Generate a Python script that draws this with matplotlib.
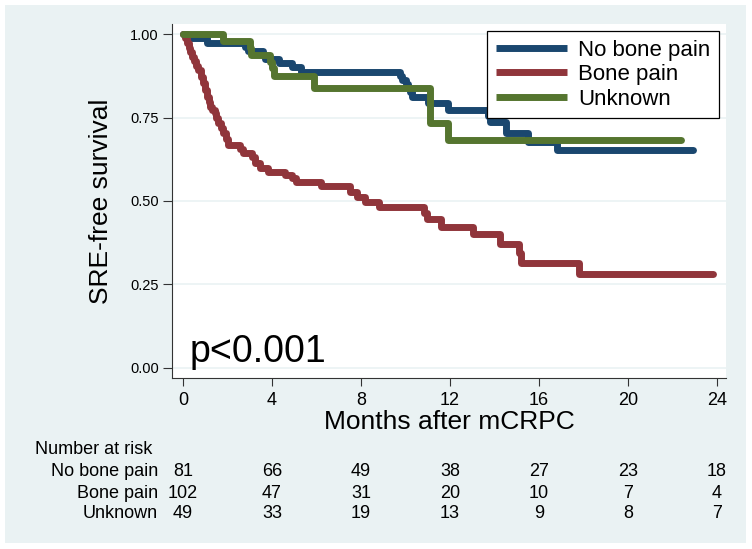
#!/usr/bin/env python3
# SRE-free survival by bone pain status (Kaplan-Meier steps).
import matplotlib
matplotlib.use("Agg")
import matplotlib.pyplot as plt
import matplotlib.transforms as mtransforms
from matplotlib.patches import Rectangle

plt.rcParams["font.family"] = ["Liberation Sans", "DejaVu Sans"]

# ---- data ----
groups = ["No bone pain", "Bone pain", "Unknown"]

t_nopain = [0, 0.2, 1.1, 2.8, 2.9, 3.6, 3.7, 4.3, 4.9, 5.3, 9.75, 9.85, 10.0, 10.1,
            10.2, 10.3, 11.0, 11.9, 13.7, 13.8, 14.5, 15.5, 16.8]
s_nopain = [1.0, 0.988, 0.975, 0.963, 0.95, 0.938, 0.926, 0.913, 0.901, 0.888, 0.876,
            0.863, 0.851, 0.838, 0.826, 0.813, 0.794, 0.773, 0.755, 0.738, 0.704,
            0.678, 0.653]
end_nopain = 22.9

t_pain = [0, 0.1, 0.17, 0.25, 0.32, 0.39, 0.5, 0.6, 0.69, 0.8, 0.91, 1.0, 1.07, 1.15,
          1.21, 1.3, 1.44, 1.5, 1.59, 1.7, 1.81, 1.95, 2.04, 2.56, 2.71, 3.09, 3.24,
          3.46, 3.83, 4.58, 4.9, 5.1, 6.2, 7.5, 7.8, 8.2, 8.8, 10.85, 10.95, 11.6,
          13.05, 14.25, 15.1, 15.2, 17.8]
s_pain = [1.0, 0.99, 0.973, 0.96, 0.946, 0.933, 0.92, 0.906, 0.893, 0.873, 0.853,
          0.833, 0.813, 0.798, 0.783, 0.773, 0.763, 0.748, 0.733, 0.718, 0.703, 0.685,
          0.668, 0.655, 0.643, 0.633, 0.613, 0.598, 0.588, 0.578, 0.568, 0.558, 0.545,
          0.528, 0.513, 0.498, 0.483, 0.463, 0.445, 0.423, 0.40, 0.37, 0.343, 0.315,
          0.28]
end_pain = 23.8

t_unk = [0, 1.8, 3.0, 3.05, 3.9, 4.0, 4.1, 5.9, 11.1, 11.9]
s_unk = [1.0, 0.98, 0.959, 0.939, 0.918, 0.898, 0.875, 0.839, 0.734, 0.683]
end_unk = 22.4

risk_times = [0, 4, 8, 12, 16, 20, 24]
risk_nopain = [81, 66, 49, 38, 27, 23, 18]
risk_pain = [102, 47, 31, 20, 10, 7, 4]
risk_unk = [49, 33, 19, 13, 9, 8, 7]

colors = ["#1A476F", "#90353B", "#55752F"]
BG = "#EAF2F3"
LW = 5.0

W, H = 752, 549
fig = plt.figure(figsize=(W / 100, H / 100), dpi=100, facecolor="white")
fig.patches.append(Rectangle((5 / W, 1 - 543 / H), (746 - 5) / W, (543 - 5) / H,
                             transform=fig.transFigure, facecolor=BG,
                             edgecolor="none", zorder=-10))

L, R, T, B = 172, 726, 24, 378
ax = fig.add_axes([L / W, 1 - B / H, (R - L) / W, (B - T) / H])
ax.set_facecolor("white")

curves = [(t_nopain, s_nopain, end_nopain), (t_pain, s_pain, end_pain),
          (t_unk, s_unk, end_unk)]
for (t, s, end), c, g in zip(curves, colors, groups):
    ax.step(t + [end], s + [s[-1]], where="post", color=c, lw=LW, label=g,
            solid_capstyle="round", solid_joinstyle="round")

ax.set_xlim(-0.494, 24.4)
ax.set_ylim(-0.031, 1.031)
ax.set_xticks(risk_times)
ax.set_yticks([0, 0.25, 0.5, 0.75, 1.0])
ax.set_yticklabels(["0.00", "0.25", "0.50", "0.75", "1.00"], fontsize=10.5)
ax.tick_params(axis="x", labelsize=13, length=6, width=0.8, color="#333333", pad=4)
ax.tick_params(axis="y", length=6.5, width=0.8, color="#333333", pad=3)
ax.yaxis.grid(True, color=BG, lw=1.2)
ax.set_axisbelow(True)
for sp in ("top", "right"):
    ax.spines[sp].set_visible(False)
for sp in ("left", "bottom"):
    ax.spines[sp].set_color("#333333")
    ax.spines[sp].set_linewidth(0.8)

ax.set_xlabel("Months after mCRPC", fontsize=19, labelpad=1)
ax.set_ylabel("SRE-free survival", fontsize=19, labelpad=12)

ax.text(0.032, 0.045, "p<0.001", transform=ax.transAxes, fontsize=27, ha="left",
        va="baseline")

leg = ax.legend(loc="upper right", bbox_to_anchor=((719 - L) / (R - L), (B - 31) / (B - T)),
                borderaxespad=0, fontsize=16, handlelength=3.2, handletextpad=0.5,
                labelspacing=0.15, borderpad=0.4, fancybox=False, framealpha=1,
                edgecolor="black")
leg.get_frame().set_linewidth(0.9)
for ln in leg.get_lines():
    ln.set_linewidth(LW)
    ln.set_solid_capstyle("butt")

# number at risk table
tr = mtransforms.blended_transform_factory(ax.transData, fig.transFigure)
fig.text(35 / W, 1 - 450 / H, "Number at risk", fontsize=13, ha="left", va="center")
rows_y = [472, 493, 514]
for g, counts, y in zip(groups, [risk_nopain, risk_pain, risk_unk], rows_y):
    fig.text(158 / W, 1 - y / H, g, fontsize=13, ha="right", va="center")
    for tt, n in zip(risk_times, counts):
        ax.text(tt, 1 - y / H, str(n), transform=tr, fontsize=13, ha="center",
                va="center")

fig.savefig("out.png", dpi=100)
